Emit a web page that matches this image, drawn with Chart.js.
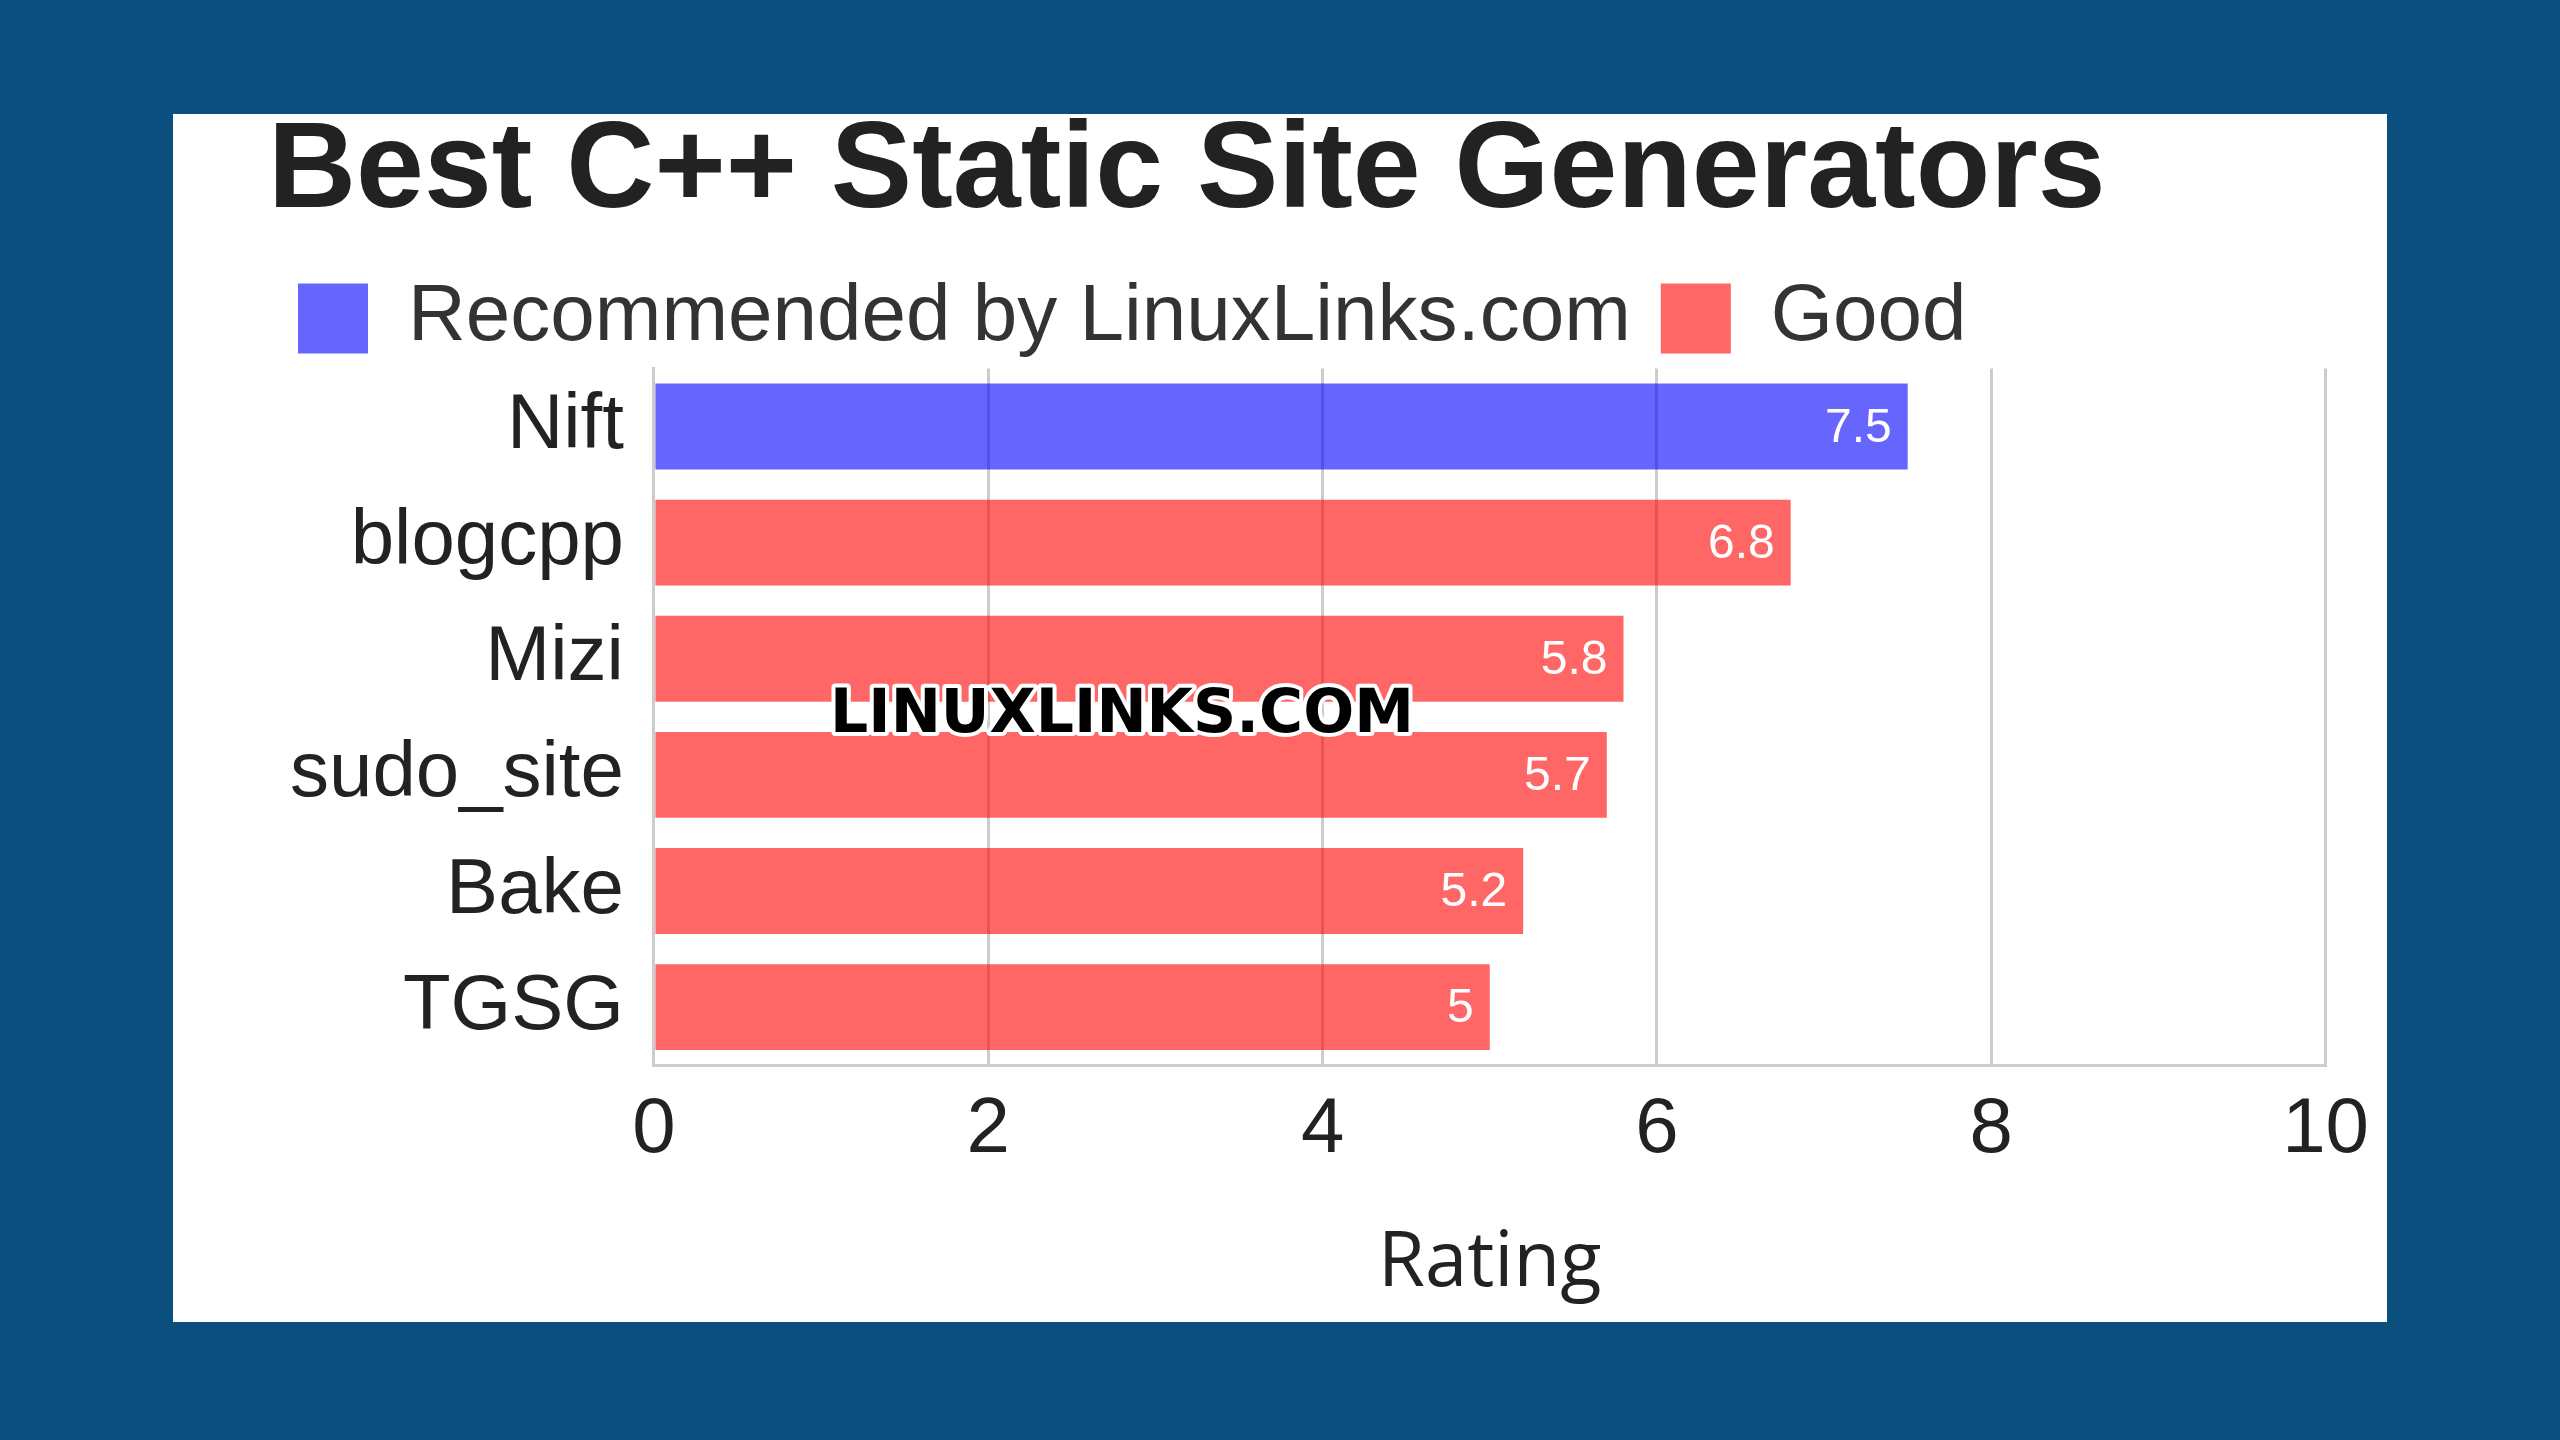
<!DOCTYPE html>
<html><head><meta charset="utf-8">
<script src="https://cdn.jsdelivr.net/npm/chart.js@4.4.0/dist/chart.umd.min.js"></script>
<style>
html,body{margin:0;padding:0;background:#0a4f7e;width:2560px;height:1440px;overflow:hidden}
#panel{position:absolute;left:173px;top:114px;width:2214px;height:1208px;background:#fff}
</style></head><body>
<div id="panel"><canvas id="c" width="2214" height="1208"></canvas></div>
<script>
const categories = ["Nift","blogcpp","Mizi","sudo_site","Bake","TGSG"];
const recommended = [7.5,null,null,null,null,null];
const good = [null,6.8,5.8,5.7,5.2,5];
const xTicks = [0,2,4,6,8,10];

const watermark = {
  id:'wm',
  afterDraw(chart){
    const c=chart.ctx;
    const x=chart.scales.x.getPixelForValue(2.80);
    const y=(chart.scales.y.getPixelForValue(2)+chart.scales.y.getPixelForValue(3))/2;
    c.save();
    c.font='bold 60px "DejaVu Sans"';
    c.textAlign='center';c.textBaseline='middle';
    c.lineWidth=8;c.strokeStyle='#fff';c.lineJoin='round';
    c.strokeText('LINUXLINKS.COM',x,y);
    c.fillStyle='#000';c.fillText('LINUXLINKS.COM',x,y);
    c.restore();
  }
};
const labels = {
  id:'lbl',
  afterDatasetsDraw(chart){
    const c=chart.ctx;
    c.save();c.font='48px "Liberation Sans"';c.fillStyle='#fff';
    c.textAlign='right';c.textBaseline='middle';
    chart.data.datasets.forEach((ds,i)=>{
      chart.getDatasetMeta(i).data.forEach((el,j)=>{
        if(ds.data[j]==null) return;
        c.fillText(String(ds.data[j]),el.x-16,el.y+2);
      });
    });
    c.restore();
  }
};

new Chart(document.getElementById('c'),{
  type:'bar',
  data:{labels:categories,datasets:[
    {label:'Recommended by LinuxLinks.com',data:recommended,backgroundColor:'rgba(0,0,255,0.6)',barPercentage:0.74,categoryPercentage:1},
    {label:'Good',data:good,backgroundColor:'rgba(255,0,0,0.6)',barPercentage:0.74,categoryPercentage:1}
  ]},
  options:{
    indexAxis:'y',responsive:false,animation:false,
    layout:{padding:{left:95,right:45,top:0,bottom:8}},
    plugins:{
      title:{display:true,text:'Best C++ Static Site Generators',align:'start',
        font:{family:'Liberation Sans',weight:'bold',size:122},color:'#222',padding:{top:-14,bottom:2}},
      legend:{align:'start',labels:{font:{family:'Liberation Sans',size:80},color:'#333',
        boxWidth:70,boxHeight:70,padding:30}},
      tooltip:{enabled:false}
    },
    scales:{
      x:{stacked:true,min:0,max:10,
        ticks:{stepSize:2,font:{family:'Liberation Sans',size:78},color:'#222',padding:18,
          callback:(v)=>xTicks.includes(v)?String(v):''},
        grid:{color:'#ccc',lineWidth:3,drawTicks:false},border:{color:'#ccc',width:3},
        title:{display:true,text:'Rating',font:{family:'Open Sans',size:76},color:'#222',padding:{top:24}}},
      y:{stacked:true,
        ticks:{font:{family:'Liberation Sans',size:78},color:'#222',padding:22},
        grid:{display:false},border:{color:'#ccc',width:3}}
    }
  },
  plugins:[labels,watermark]
});
</script></body></html>
